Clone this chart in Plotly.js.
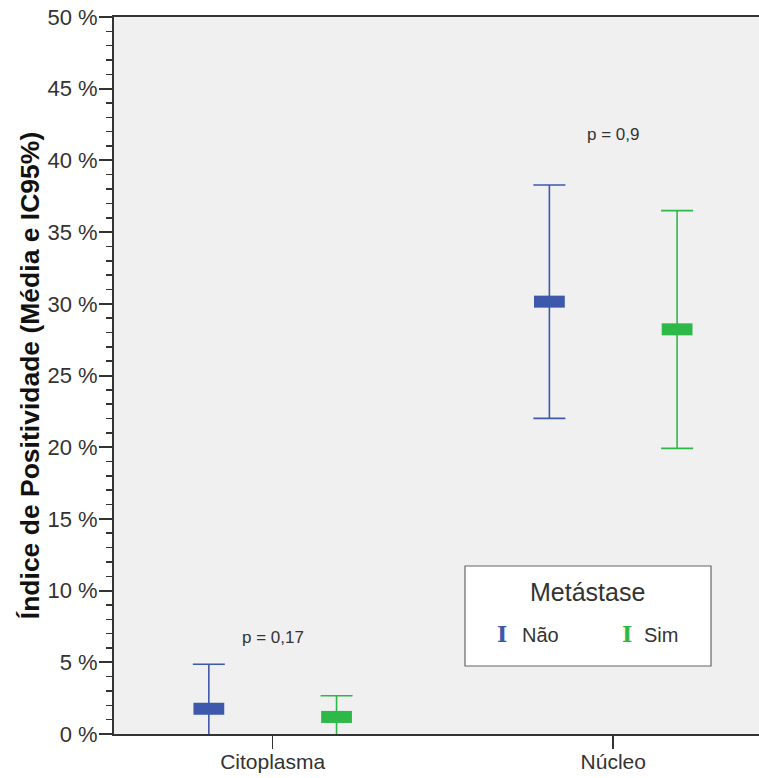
<!DOCTYPE html>
<html>
<head>
<meta charset="utf-8">
<script src="https://cdn.plot.ly/plotly-3.0.1.min.js"></script>
<style>html,body{margin:0;padding:0;background:#fff;}</style>
</head>
<body>
<div id="chart" style="width:759px;height:778px;"></div>
<script>
// ---- data ----
const categories = ['Citoplasma', 'Núcleo'];
const seriesNames = ['Não', 'Sim'];
const legendTitle = 'Metástase';
const naoMean = [1.76, 30.15];
const naoLow  = [-1.34, 22.01];
const naoHigh = [4.86, 38.28];
const simMean = [1.19, 28.22];
const simLow  = [-0.29, 19.92];
const simHigh = [2.67, 36.50];
const pValues = ['p = 0,17', 'p = 0,9'];
const yTitle = 'Índice de Positividade (Média e IC95%)';

// ---- styling ----
const colors = ['#3E58AC', '#2EB848'];
const textColor = '#333333';
const FONT = 'Liberation Sans, Arial, sans-serif';

function seriesTrace(name, mean, low, high, color, group) {
  return {
    type: 'scatter', mode: 'markers', name: name,
    x: categories, y: mean,
    offsetgroup: group,
    showlegend: false,
    marker: { symbol: 'line-ew', size: 22, color: color,
              line: { width: 12, color: color } },
    error_y: {
      type: 'data', symmetric: false,
      array: high.map((h, i) => h - mean[i]),
      arrayminus: mean.map((m, i) => m - low[i]),
      color: color, thickness: 1.6, width: 16
    },
    hoverinfo: 'skip'
  };
}

const data = [
  seriesTrace(seriesNames[0], naoMean, naoLow, naoHigh, colors[0], 'g0'),
  seriesTrace(seriesNames[1], simMean, simLow, simHigh, colors[1], 'g1')
];

// plot-area pixel geometry -> paper coordinates for the legend box
const PL = 114, PR = 759, PT = 17, PB = 734;
const px = v => (v - PL) / (PR - PL);
const py = v => (PB - v) / (PB - PT);

const pYs = [6.7, 41.8];
const annotations = pValues.map((t, i) => ({
  x: categories[i], y: pYs[i], xref: 'x', yref: 'y',
  text: t, showarrow: false,
  font: { family: FONT, size: 17, color: textColor }
}));

// legend (drawn as box + text)
annotations.push({
  x: px(587), y: py(592), xref: 'paper', yref: 'paper',
  text: legendTitle, showarrow: false, xanchor: 'center', yanchor: 'middle',
  font: { family: FONT, size: 25, color: textColor }
});
const symX = [501.5, 627], nameX = [520, 642];
seriesNames.forEach((n, i) => {
  annotations.push({
    x: px(symX[i]), y: py(634), xref: 'paper', yref: 'paper',
    text: 'I', showarrow: false, xanchor: 'center', yanchor: 'middle',
    font: { family: 'DejaVu Serif, serif', size: 22, color: colors[i], weight: 'bold' }
  });
  annotations.push({
    x: px(nameX[i]), y: py(635), xref: 'paper', yref: 'paper',
    text: n, showarrow: false, xanchor: 'left', yanchor: 'middle',
    font: { family: FONT, size: 20, color: textColor }
  });
});

const layout = {
  width: 759, height: 778,
  margin: { l: PL, r: 759 - PR, t: PT, b: 778 - PB, pad: 0 },
  paper_bgcolor: '#ffffff',
  plot_bgcolor: '#f0f0f0',
  font: { family: FONT, color: textColor },
  showlegend: false,
  scattermode: 'group',
  scattergap: 0.25,
  xaxis: {
    type: 'category',
    range: [-0.466, 1.428],
    showgrid: false, zeroline: false,
    showline: true, linecolor: '#333333', linewidth: 2, mirror: true,
    ticks: 'outside', ticklen: 13, tickwidth: 1.5, tickcolor: '#333333',
    ticklabelstandoff: -5,
    tickfont: { family: FONT, size: 21, color: textColor },
    fixedrange: true
  },
  yaxis: {
    range: [0, 50],
    dtick: 5, tick0: 0,
    ticksuffix: ' %',
    showgrid: false, zeroline: false,
    showline: true, linecolor: '#333333', linewidth: 2,
    ticks: 'outside', ticklen: 13, tickwidth: 2, tickcolor: '#333333',
    ticklabelstandoff: -3,
    tickfont: { family: FONT, size: 22, color: textColor },
    minor: { dtick: 1, ticks: 'outside', ticklen: 6, tickwidth: 1.5, tickcolor: '#333333', showgrid: false },
    title: { text: yTitle, font: { family: FONT, size: 26.5, color: '#111111', weight: 'bold' }, standoff: 0 },
    fixedrange: true
  },
  shapes: [{
    type: 'rect', xref: 'paper', yref: 'paper',
    x0: px(465), x1: px(711), y0: py(666), y1: py(566),
    fillcolor: '#ffffff', line: { color: '#666666', width: 1.2 }, layer: 'below'
  }],
  annotations: annotations
};

Plotly.newPlot('chart', data, layout, { displayModeBar: false, staticPlot: true });
</script>
</body>
</html>
